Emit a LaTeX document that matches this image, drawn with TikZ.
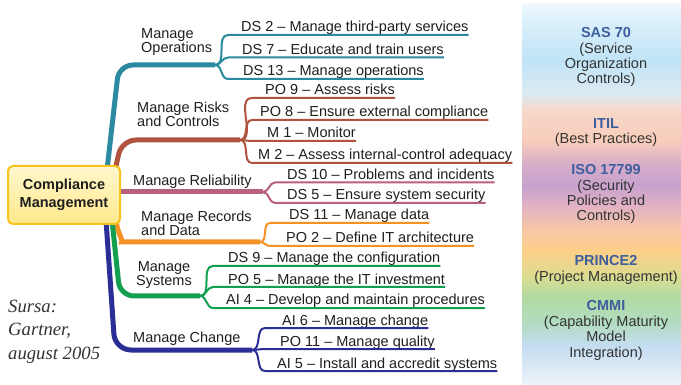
\documentclass[tikz,border=0pt]{standalone}
\usepackage{fontspec}
\setmainfont{Liberation Sans}
\newfontfamily\sourcefont{Liberation Serif}
\usetikzlibrary{backgrounds,calc}

\definecolor{opscol}{RGB}{43,138,160}
\definecolor{riskcol}{RGB}{176,84,64}
\definecolor{relcol}{RGB}{184,96,126}
\definecolor{reccol}{RGB}{244,146,36}
\definecolor{syscol}{RGB}{18,160,80}
\definecolor{chgcol}{RGB}{42,46,150}
\definecolor{framecol}{RGB}{62,94,158}
\definecolor{boxline}{RGB}{247,195,30}
\definecolor{boxtop}{RGB}{255,248,205}
\definecolor{boxbot}{RGB}{255,232,140}

\definecolor{pA}{HTML}{EEF4FA}
\definecolor{pB}{HTML}{C6DDF2}
\definecolor{pC}{HTML}{B2DCC0}
\definecolor{pD}{HTML}{B2DAA2}
\definecolor{pE}{HTML}{DCDC90}
\definecolor{pF}{HTML}{FDCF88}
\definecolor{pG}{HTML}{F8C8A4}
\definecolor{pH}{HTML}{E2B2C4}
\definecolor{pI}{HTML}{C8A2CE}
\definecolor{pJ}{HTML}{D6ACCA}
\definecolor{pK}{HTML}{F8CDBA}
\definecolor{pL}{HTML}{F7D8CA}
\definecolor{pM}{HTML}{DCEAF2}
\definecolor{pN}{HTML}{C0E4F7}
\definecolor{pO}{HTML}{DCF0FA}
\definecolor{pP}{HTML}{F0F8FC}

\pgfdeclareverticalshading{panelshade}{100bp}{color(0bp)=(pA); color(25bp)=(pA);
  color(30bp)=(pB); color(33.3bp)=(pC); color(36.6bp)=(pD); color(39.3bp)=(pE);
  color(42.6bp)=(pF); color(45.2bp)=(pG); color(48.5bp)=(pH); color(51.2bp)=(pI);
  color(53.8bp)=(pJ); color(57.1bp)=(pK); color(61.1bp)=(pL); color(63.1bp)=(pM);
  color(67.7bp)=(pN); color(73bp)=(pO); color(75bp)=(pP); color(100bp)=(pP)}

\begin{document}
\begin{tikzpicture}[x=1pt,y=1pt,
every node/.style={font=\fontsize{14.5}{14}\selectfont, text=black!88},
leaf/.style={anchor=base west, inner sep=0pt},
branch/.style={anchor=base west, inner sep=0pt, align=left},
trunk/.style={line width=5pt, rounded corners=14pt},
twig/.style={line width=2pt},
frame/.style={anchor=base, inner sep=0pt, align=center, font=\fontsize{14.5}{15.4}\selectfont, text=black!80},
root/.style={draw=boxline, line width=2pt, rounded corners=5pt, top color=boxtop, bottom color=boxbot,
  minimum width=112pt, minimum height=58pt, align=center, font=\bfseries\fontsize{14.5}{18}\selectfont}]

\useasboundingbox (0,0) rectangle (681,-385);

% frameworks
\fill[shading=panelshade] (522,-4) rectangle (681,-385);
\node[frame] (sas) at (606,-84) {\textcolor{framecol}{\textbf{SAS 70}}\\(Service\\Organization\\Controls)};
\node[frame] (itil) at (606,-144) {\textcolor{framecol}{\textbf{ITIL}}\\(Best Practices)};
\node[frame] (iso) at (606,-221) {\textcolor{framecol}{\textbf{ISO 17799}}\\(Security\\Policies and\\Controls)};
\node[frame] (prince) at (606,-281) {\textcolor{framecol}{\textbf{PRINCE2}}\\(Project Management)};
\node[frame] (cmmi) at (606,-357) {\textcolor{framecol}{\textbf{CMMI}}\\(Capability Maturity\\Model\\Integration)};

\node[root] (cm) at (64,-195) {Compliance\\Management};

\coordinate (opsfork) at (215,-65);
\coordinate (riskfork) at (240,-140);
\coordinate (relfork) at (263,-192);
\coordinate (recfork) at (260,-242);
\coordinate (sysfork) at (200,-296);
\coordinate (chgfork) at (252,-350);

\begin{scope}[on background layer]
\fill[white] (0,0) rectangle (520,-385);
\draw[trunk, opscol] (107,-170) -- (119,-65) -- (opsfork);
\draw[trunk, riskcol] (115,-170) -- (122,-140) -- (riskfork);
\draw[trunk, relcol] (115,-192) -- (relfork);
\draw[trunk, reccol] (116,-218) to[out=-90,in=180] (136,-242) -- (recfork);
\draw[trunk, syscol] (112,-220) -- (120,-296) -- (sysfork);
\draw[trunk, chgcol, rounded corners=16pt] (106,-220) -- (115,-350) -- (chgfork);
\end{scope}

\node[branch] (ops) at (141,-52.5) {Manage\\Operations};
\node[branch] (risk) at (137,-127) {Manage Risks\\and Controls};
\node[branch] (rel) at (133,-185.5) {Manage Reliability};
\node[branch] (rec) at (141,-235.5) {Manage Records\\and Data};
\node[branch, align=center, anchor=base] (sys) at (164,-285.5) {Manage\\Systems};
\node[branch] (chg) at (133,-342.7) {Manage Change};

\node[leaf] (ds2) at (241,-32) {DS 2 -- Manage third-party services};
\node[leaf] (ds7) at (242,-54.5) {DS 7 -- Educate and train users};
\node[leaf] (ds13) at (243,-76) {DS 13 -- Manage operations};
\node[leaf] (po9) at (265,-95) {PO 9 -- Assess risks};
\node[leaf] (po8) at (260,-117) {PO 8 -- Ensure external compliance};
\node[leaf] (m1) at (267,-138) {M 1 -- Monitor};
\node[leaf] (m2) at (258,-160) {M 2 -- Assess internal-control adequacy};
\node[leaf] (ds10) at (287,-179.5) {DS 10 -- Problems and incidents};
\node[leaf] (ds5) at (287,-200) {DS 5 -- Ensure system security};
\node[leaf] (ds11) at (289,-220) {DS 11 -- Manage data};
\node[leaf] (po2) at (286,-243) {PO 2 -- Define IT architecture};
\node[leaf] (ds9) at (228,-263) {DS 9 -- Manage the configuration};
\node[leaf] (po5) at (228,-284) {PO 5 -- Manage the IT investment};
\node[leaf] (ai4) at (226,-305) {AI 4 -- Develop and maintain procedures};
\node[leaf] (ai6) at (282,-325) {AI 6 -- Manage change};
\node[leaf] (po11) at (280,-346) {PO 11 -- Manage quality};
\node[leaf] (ai5) at (277,-368) {AI 5 -- Install and accredit systems};

\draw[twig, opscol] (opsfork) to[out=0,in=180] ($(ds2.base west)+(-13,-3)$) -- ($(ds2.base east)+(0,-3)$);
\draw[twig, opscol] (opsfork) to[out=0,in=180] ($(ds7.base west)+(-14,-3)$) -- ($(ds7.base east)+(0,-3)$);
\draw[twig, opscol] (opsfork) to[out=0,in=180] ($(ds13.base west)+(-15,-3)$) -- ($(ds13.base east)+(0,-3)$);
\draw[twig, riskcol] (riskfork) to[out=0,in=180] ($(po9.base west)+(-13,-3)$) -- ($(po9.base east)+(0,-3)$);
\draw[twig, riskcol] (riskfork) to[out=0,in=180] ($(po8.base west)+(-8,-3)$) -- ($(po8.base east)+(0,-3)$);
\draw[twig, riskcol] (riskfork) to[out=0,in=180] ($(m1.base west)+(-15,-3)$) -- ($(m1.base east)+(0,-3)$);
\draw[twig, riskcol] (riskfork) to[out=0,in=180] ($(m2.base west)+(-6,-3)$) -- ($(m2.base east)+(0,-3)$);
\draw[twig, relcol] (relfork) to[out=0,in=180] ($(ds10.base west)+(-12,-3)$) -- ($(ds10.base east)+(0,-3)$);
\draw[twig, relcol] (relfork) to[out=0,in=180] ($(ds5.base west)+(-12,-3)$) -- ($(ds5.base east)+(0,-3)$);
\draw[twig, reccol] (recfork) to[out=0,in=180] ($(ds11.base west)+(-19,-3)$) -- ($(ds11.base east)+(0,-3)$);
\draw[twig, reccol] (recfork) to[out=0,in=180] ($(po2.base west)+(-16,-3)$) -- ($(po2.base east)+(0,-3)$);
\draw[twig, syscol] (sysfork) to[out=0,in=180] ($(ds9.base west)+(-15,-3)$) -- ($(ds9.base east)+(0,-3)$);
\draw[twig, syscol] (sysfork) to[out=0,in=180] ($(po5.base west)+(-15,-3)$) -- ($(po5.base east)+(0,-3)$);
\draw[twig, syscol] (sysfork) to[out=0,in=180] ($(ai4.base west)+(-13,-3)$) -- ($(ai4.base east)+(0,-3)$);
\draw[twig, chgcol] (chgfork) to[out=0,in=180] ($(ai6.base west)+(-17,-3)$) -- ($(ai6.base east)+(0,-3)$);
\draw[twig, chgcol] (chgfork) to[out=0,in=180] ($(po11.base west)+(-15,-3)$) -- ($(po11.base east)+(0,-3)$);
\draw[twig, chgcol] (chgfork) to[out=0,in=180] ($(ai5.base west)+(-12,-3)$) -- ($(ai5.base east)+(0,-3)$);

\node[anchor=base west, inner sep=0pt, align=left, text=black!80,
  font={\sourcefont\itshape\fontsize{18.7}{23.5}\selectfont}] (src) at (8,-359) {Sursa:\\Gartner,\\august 2005};

\end{tikzpicture}
\end{document}
